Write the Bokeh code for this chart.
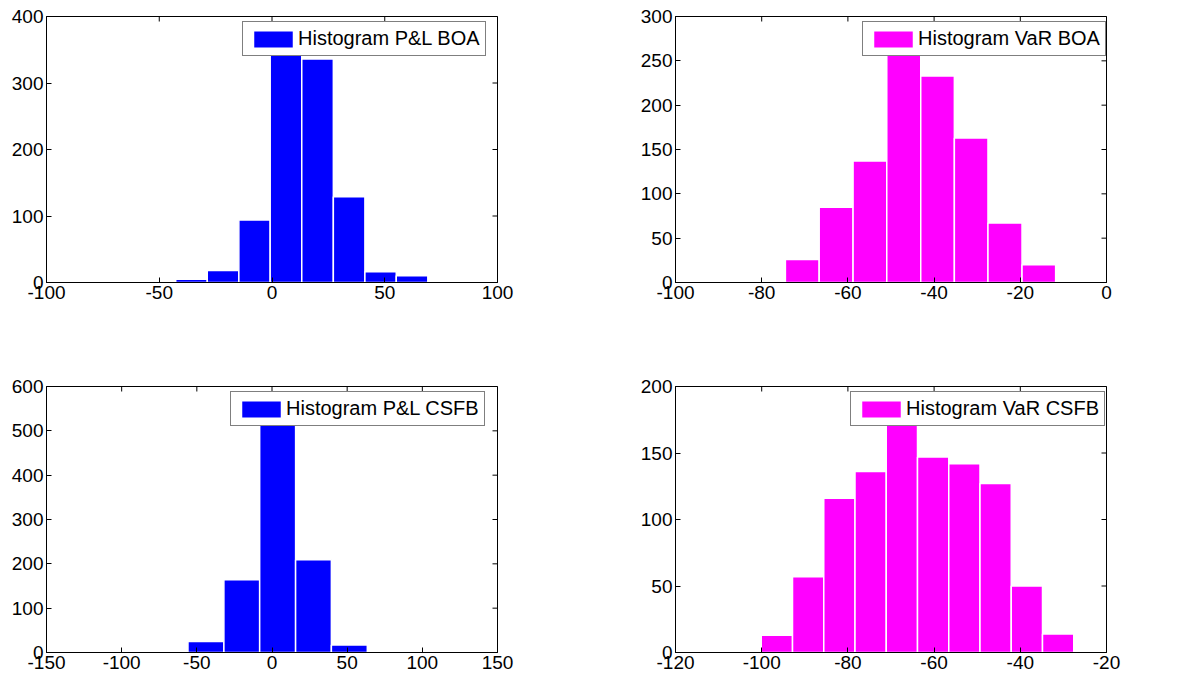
import math
from bokeh.plotting import figure
from bokeh.models import FixedTicker, Range1d, Legend, LegendItem
from bokeh.layouts import column, row
from bokeh.embed import file_html
from bokeh.resources import INLINE

# ---- data ----
pl_boa_edges = [-42.7, -28.7, -14.7, -0.8, 13.2, 27.2, 41.2, 55.1, 69.1]
pl_boa_counts = [5, 18, 94, 380, 336, 129, 16, 10]

var_boa_edges = [-74.5, -66.66, -58.8, -50.98, -43.1, -35.3, -27.5, -19.6, -11.8]
var_boa_counts = [26, 85, 137, 269, 233, 163, 67, 20]

pl_csfb_edges = [-55.9, -32.0, -8.2, 15.7, 39.5, 63.4]
pl_csfb_counts = [25, 164, 575, 209, 17]

var_csfb_edges = [-100.1, -92.85, -85.6, -78.35, -71.1, -63.85, -56.6, -49.35, -42.1, -34.85, -27.6]
var_csfb_counts = [13, 57, 116, 136, 185, 147, 142, 127, 50, 14]

labels = ["Histogram P&L BOA", "Histogram VaR BOA", "Histogram P&L CSFB", "Histogram VaR CSFB"]

xticks_pl_boa = [-100, -50, 0, 50, 100]
yticks_pl_boa = [0, 100, 200, 300, 400]
xticks_var_boa = [-100, -80, -60, -40, -20, 0]
yticks_var_boa = [0, 50, 100, 150, 200, 250, 300]
xticks_pl_csfb = [-150, -100, -50, 0, 50, 100, 150]
yticks_pl_csfb = [0, 100, 200, 300, 400, 500, 600]
xticks_var_csfb = [-120, -100, -80, -60, -40, -20]
yticks_var_csfb = [0, 50, 100, 150, 200]

BLUE = "#0000FF"
MAGENTA = "#FF00FF"
FONT = "Liberation Sans"


def style_axis(ax, ticks):
    ax.ticker = FixedTicker(ticks=ticks)
    ax.major_label_overrides = {t: str(t) for t in ticks}
    ax.major_tick_in = 5
    ax.major_tick_out = 0
    ax.minor_tick_in = 0
    ax.minor_tick_out = 0
    ax.axis_line_color = "black"
    ax.axis_line_width = 1
    ax.major_tick_line_color = "black"
    ax.major_label_text_font = FONT
    ax.major_label_text_font_size = "19px"
    ax.major_label_text_color = "black"
    ax.major_label_standoff = 3


def panel(edges, counts, color, label, xticks, yticks, w, h, bl, br, bt, bb, leg_loc):
    p = figure(width=w, height=h,
               x_range=Range1d(xticks[0], xticks[-1]),
               y_range=Range1d(yticks[0], yticks[-1]),
               output_backend="svg", toolbar_location=None,
               min_border_left=bl, min_border_right=br,
               min_border_top=bt, min_border_bottom=bb)
    p.xgrid.visible = False
    p.ygrid.visible = False
    p.outline_line_color = "black"
    p.outline_line_width = 1
    p.background_fill_color = "white"
    p.border_fill_color = "white"

    r = p.quad(left=edges[:-1], right=edges[1:], bottom=0, top=counts,
               fill_color=color, line_color="white", line_width=1.5)

    style_axis(p.xaxis[0], xticks)
    style_axis(p.yaxis[0], yticks)

    # mirrored inward ticks on the top and right edges of the box
    p.scatter(x=xticks, y=[yticks[-1]] * len(xticks), marker="dash", size=10,
              angle=math.pi / 2, line_color="black", line_width=1)
    p.scatter(x=[xticks[-1]] * len(yticks), y=yticks, marker="dash", size=10,
              line_color="black", line_width=1)

    leg = Legend(items=[LegendItem(label=label, renderers=[r])],
                 location=leg_loc, margin=0, padding=5, spacing=0,
                 glyph_width=50, glyph_height=22, label_standoff=0,
                 label_text_font=FONT, label_text_font_size="20px",
                 label_text_color="black",
                 border_line_color="black", border_line_width=1,
                 background_fill_color="white", background_fill_alpha=1)
    p.add_layout(leg)
    return p


p1 = panel(pl_boa_edges, pl_boa_counts, BLUE, labels[0], xticks_pl_boa, yticks_pl_boa,
           537, 322, 46, 40, 16, 40, (196, 226))
p2 = panel(var_boa_edges, var_boa_counts, MAGENTA, labels[1], xticks_var_boa, yticks_var_boa,
           599, 322, 138, 30, 16, 40, (187, 226))
p3 = panel(pl_csfb_edges, pl_csfb_counts, BLUE, labels[2], xticks_pl_csfb, yticks_pl_csfb,
           537, 360, 46, 40, 64, 30, (184, 226))
p4 = panel(var_csfb_edges, var_csfb_counts, MAGENTA, labels[3], xticks_var_csfb, yticks_var_csfb,
           599, 360, 138, 30, 64, 30, (175, 226))

layout = column(row(p1, p2), row(p3, p4))
open("out.html", "w").write(file_html(layout, INLINE))
